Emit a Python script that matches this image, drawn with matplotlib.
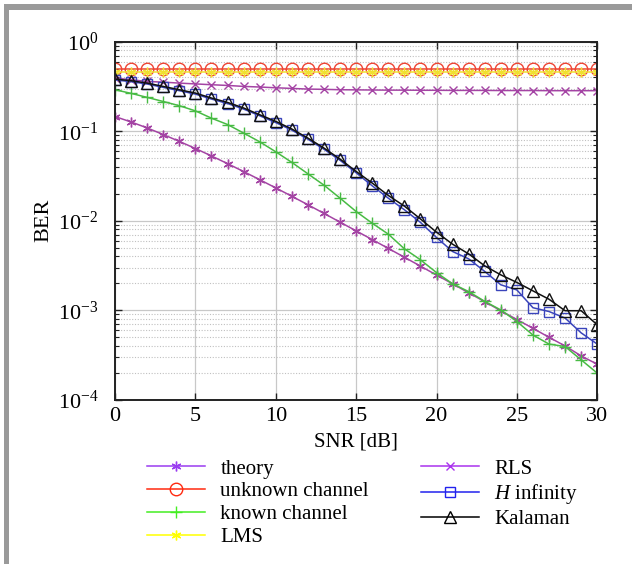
import matplotlib
matplotlib.use("Agg")
import matplotlib.pyplot as plt
from matplotlib.lines import Line2D
from matplotlib.patches import Rectangle
from matplotlib.ticker import LogLocator, FixedLocator, FuncFormatter, NullFormatter
import numpy as np

plt.rcParams['font.family'] = ['Liberation Serif', 'DejaVu Serif']
plt.rcParams['mathtext.fontset'] = 'custom'
plt.rcParams['mathtext.rm'] = 'Liberation Serif'
plt.rcParams['mathtext.it'] = 'Liberation Serif:italic'
plt.rcParams['axes.unicode_minus'] = False

snr = np.arange(0, 31)

theory = [0.146, 0.127, 0.109, 0.0919, 0.0771, 0.0642, 0.0530, 0.0435, 0.0355, 0.0288,
          0.0233, 0.0188, 0.0151, 0.0121, 0.00966, 0.00772, 0.00617, 0.00492, 0.00392,
          0.00312, 0.00248, 0.00198, 0.00157, 0.00125, 0.00099, 0.00079, 0.00063,
          0.00050, 0.00040, 0.00031, 0.00025]
unknown = [0.50] * 31
known = [0.291, 0.265, 0.239, 0.215, 0.193, 0.169, 0.140, 0.119, 0.0955, 0.0763,
         0.059, 0.0449, 0.0335, 0.0250, 0.0179, 0.0127, 0.0094, 0.0071, 0.00487,
         0.00367, 0.00264, 0.00198, 0.00162, 0.00126, 0.00101, 0.00075, 0.00053,
         0.00042, 0.000394, 0.00028, 0.000199]
lms = [0.455] * 31
rls = [0.393, 0.376, 0.360, 0.354, 0.345, 0.338, 0.331, 0.325, 0.317, 0.312,
       0.306, 0.301, 0.296, 0.294, 0.291, 0.290, 0.289, 0.288, 0.288, 0.287,
       0.287, 0.286, 0.286, 0.286, 0.285, 0.285, 0.285, 0.284, 0.284, 0.284, 0.284]
hinf = [0.375, 0.358, 0.337, 0.309, 0.284, 0.260, 0.229, 0.204, 0.177, 0.149,
        0.125, 0.103, 0.0815, 0.0630, 0.0474, 0.0344, 0.0246, 0.0179, 0.0133,
        0.0096, 0.00651, 0.00454, 0.00376, 0.00272, 0.00193, 0.00169, 0.00107,
        0.00097, 0.00082, 0.00056, 0.00042]
kalman = [0.383, 0.367, 0.345, 0.317, 0.291, 0.267, 0.235, 0.210, 0.182, 0.153,
          0.129, 0.106, 0.0839, 0.0649, 0.0489, 0.0356, 0.0264, 0.0192, 0.0146,
          0.0105, 0.00747, 0.00548, 0.00427, 0.00314, 0.00249, 0.00205, 0.00165,
          0.00133, 0.00099, 0.00099, 0.00069]

labels = ['theory', 'unknown channel', 'known channel', 'LMS', 'RLS',
          r'$\mathit{H}$ infinity', 'Kalaman']

asterisk = (6, 2, 0)
series = [
    (theory, '#a444a4', asterisk, 7),
    (unknown, '#ee4433', 'o', 9),
    (known, '#48bb44', '+', 9),
    (lms, '#f0e030', asterisk, 7),
    (rls, '#a444a4', 'x', 6),
    (hinf, '#3a44bb', 's', 7),
    (kalman, '#111111', '^', 9),
]
legend_colors = ['#9a3cf0', '#ff2a10', '#44ee22', '#ffff00', '#aa33ee', '#2222ee', '#000000']

fig = plt.figure(figsize=(6.32, 5.64), dpi=100)
ax = fig.add_axes([0.182, 0.291, 0.763, 0.635])

for (vals, col, mk, ms) in series:
    ax.semilogy(snr, vals, color=col, marker=mk, markersize=ms, lw=1.1,
                markerfacecolor='none', markeredgecolor=col, markeredgewidth=1.0)

ax.set_xlim(0, 30)
ax.set_ylim(1e-4, 1)
ax.xaxis.set_major_locator(FixedLocator([0, 5, 10, 15, 20, 25, 30]))
ax.yaxis.set_major_locator(LogLocator(base=10, numticks=10))
ax.yaxis.set_minor_locator(LogLocator(base=10, subs=np.arange(2, 10), numticks=20))
ax.yaxis.set_minor_formatter(NullFormatter())
ax.yaxis.set_major_formatter(FuncFormatter(
    lambda v, p: r'$\mathregular{10^{%s}}$' % ('{-}%d' % -round(np.log10(v)) if v < 1 else '0')))

ax.grid(True, which='major', color='#c8c8c8', lw=0.9, ls='-')
ax.grid(True, which='minor', axis='y', color='#c0c0c0', lw=0.8, ls=(0, (1, 1.5)))
ax.set_axisbelow(True)

ax.tick_params(which='both', direction='in', top=True, right=True, colors='#222222')
ax.tick_params(which='major', length=5, width=1.0, labelsize=16, labelcolor='black')
ax.tick_params(which='minor', length=3, width=0.8)
ax.tick_params(axis='y', pad=12)
ax.tick_params(axis='x', pad=5)
for s in ax.spines.values():
    s.set_linewidth(1.4)
    s.set_color('#222222')

ax.set_xlabel('SNR [dB]', fontsize=15, labelpad=5)
ax.set_ylabel('BER', fontsize=16, labelpad=3)

handles = []
for (vals, col, mk, ms), lc in zip(series, legend_colors):
    handles.append(Line2D([], [], color=lc, marker=mk, markersize=ms, lw=1.1,
                          markerfacecolor='none', markeredgecolor=lc, markeredgewidth=1.0))
fig.legend(handles, labels, ncol=2, frameon=False, fontsize=15,
           loc='upper left', bbox_to_anchor=(147 / 632, 1 - 459 / 564), handlelength=2.8,
           handletextpad=0.72, columnspacing=2.5, labelspacing=0.16,
           borderaxespad=0, borderpad=0)

# grey frame on top and left edges
fig.add_artist(Rectangle((4 / 632, 0), 5 / 632, 1 - 4 / 564, transform=fig.transFigure,
                         color='#9a9a9a', lw=0))
fig.add_artist(Rectangle((4 / 632, 1 - 10 / 564), 1, 6 / 564, transform=fig.transFigure,
                         color='#9a9a9a', lw=0))

fig.savefig('out.png', dpi=100)
